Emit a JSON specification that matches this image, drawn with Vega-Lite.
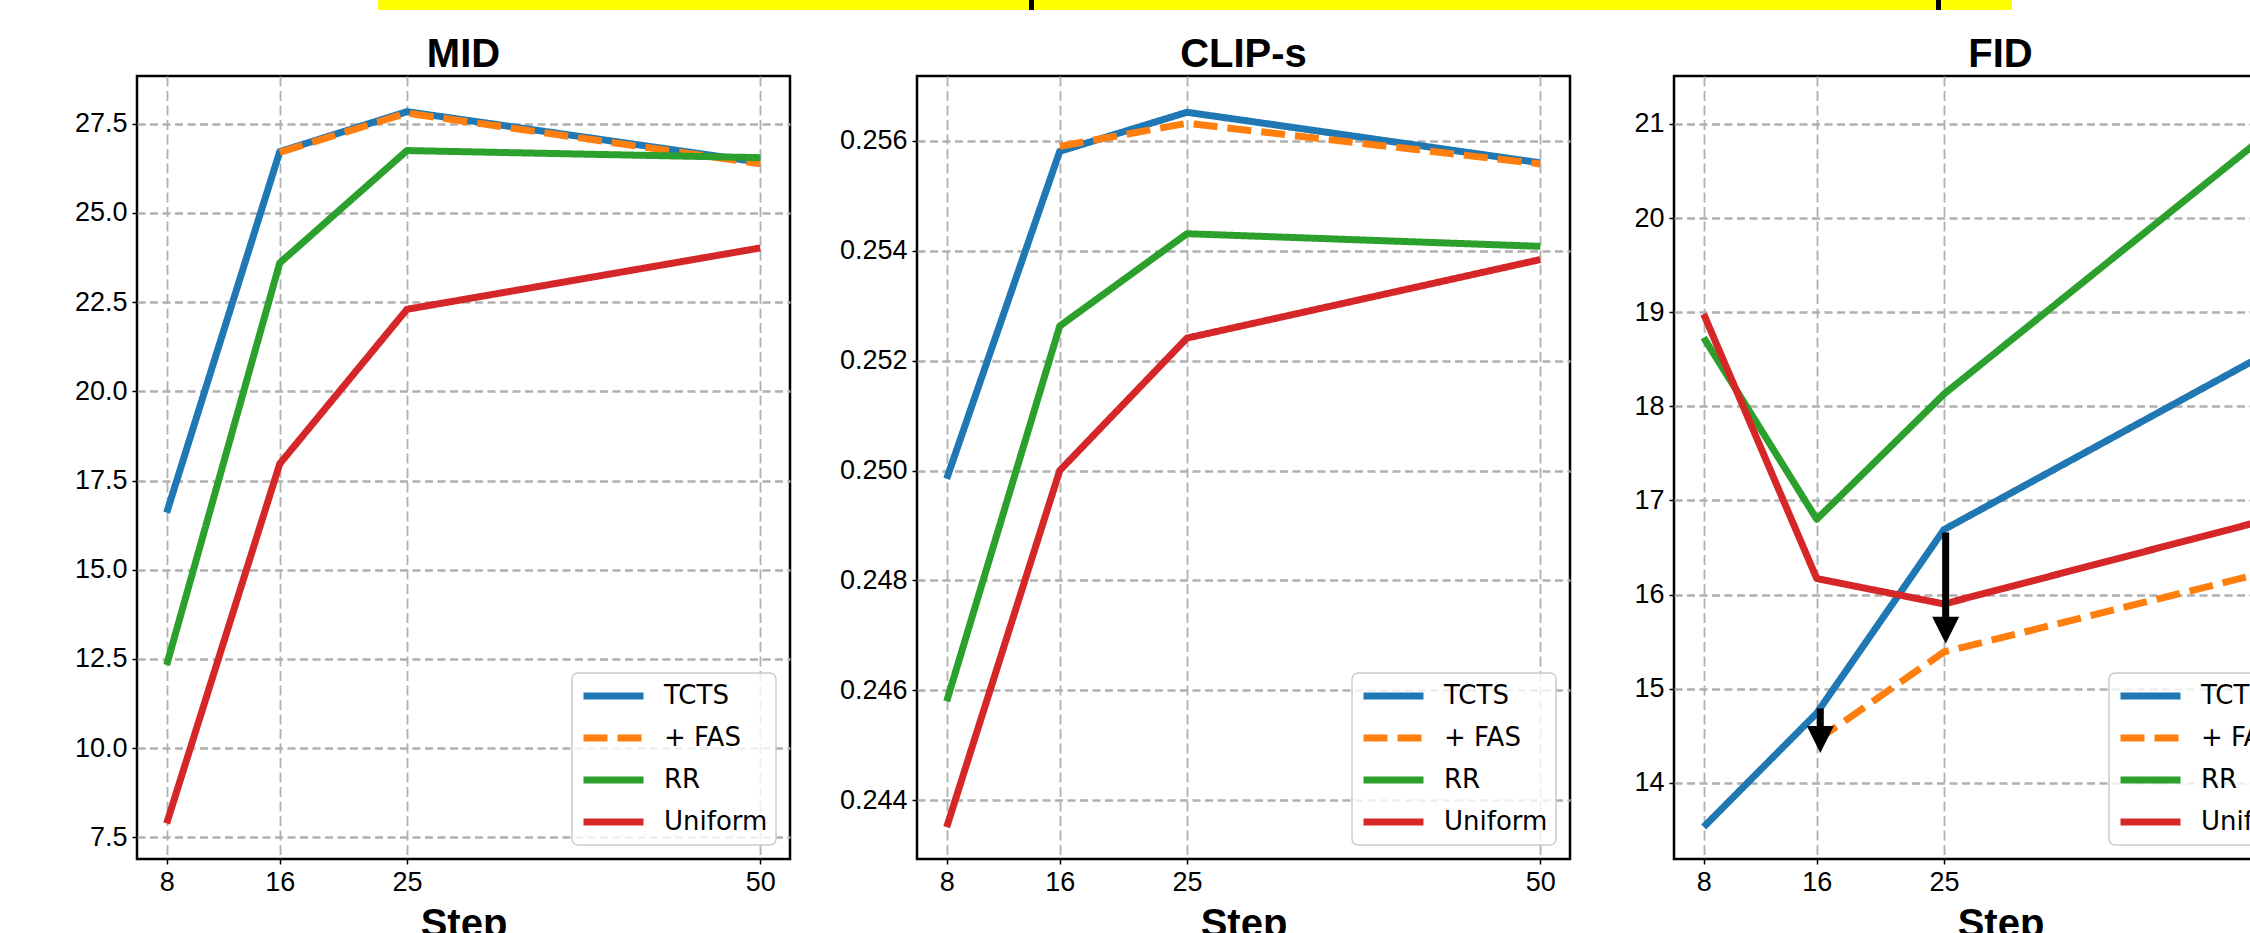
{
  "$schema": "https://vega.github.io/schema/vega-lite/v6.json",
  "padding": 0,
  "background": "white",
  "spacing": 23,
  "datasets": {
    "mid": [
      {"method": "TCTS", "step": 8, "value": 16.6},
      {"method": "TCTS", "step": 16, "value": 26.72},
      {"method": "TCTS", "step": 25, "value": 27.84},
      {"method": "TCTS", "step": 50, "value": 26.42},
      {"method": "+ FAS", "step": 16, "value": 26.7},
      {"method": "+ FAS", "step": 25, "value": 27.8},
      {"method": "+ FAS", "step": 50, "value": 26.38},
      {"method": "RR", "step": 8, "value": 12.33},
      {"method": "RR", "step": 16, "value": 23.6},
      {"method": "RR", "step": 25, "value": 26.75},
      {"method": "RR", "step": 50, "value": 26.55},
      {"method": "Uniform", "step": 8, "value": 7.89},
      {"method": "Uniform", "step": 16, "value": 17.97},
      {"method": "Uniform", "step": 25, "value": 22.3},
      {"method": "Uniform", "step": 50, "value": 24.02}
    ],
    "clip": [
      {"method": "TCTS", "step": 8, "value": 0.24985},
      {"method": "TCTS", "step": 16, "value": 0.25581},
      {"method": "TCTS", "step": 25, "value": 0.25652},
      {"method": "TCTS", "step": 50, "value": 0.2556},
      {"method": "+ FAS", "step": 16, "value": 0.2559},
      {"method": "+ FAS", "step": 25, "value": 0.25632},
      {"method": "+ FAS", "step": 50, "value": 0.25558},
      {"method": "RR", "step": 8, "value": 0.2458},
      {"method": "RR", "step": 16, "value": 0.25263},
      {"method": "RR", "step": 25, "value": 0.25431},
      {"method": "RR", "step": 50, "value": 0.25408},
      {"method": "Uniform", "step": 8, "value": 0.24351},
      {"method": "Uniform", "step": 16, "value": 0.25},
      {"method": "Uniform", "step": 25, "value": 0.25241},
      {"method": "Uniform", "step": 50, "value": 0.25384}
    ],
    "fid": [
      {"method": "TCTS", "step": 8, "value": 13.53},
      {"method": "TCTS", "step": 16, "value": 14.74},
      {"method": "TCTS", "step": 25, "value": 16.69},
      {"method": "TCTS", "step": 50, "value": 18.74},
      {"method": "+ FAS", "step": 16, "value": 14.45},
      {"method": "+ FAS", "step": 25, "value": 15.39},
      {"method": "+ FAS", "step": 50, "value": 16.32},
      {"method": "RR", "step": 8, "value": 18.73},
      {"method": "RR", "step": 16, "value": 16.8},
      {"method": "RR", "step": 25, "value": 18.13},
      {"method": "RR", "step": 50, "value": 21.15},
      {"method": "Uniform", "step": 8, "value": 18.98},
      {"method": "Uniform", "step": 16, "value": 16.17},
      {"method": "Uniform", "step": 25, "value": 15.9},
      {"method": "Uniform", "step": 50, "value": 16.88}
    ],
    "arrows": [
      {"step": 16.25, "top": 14.79, "head": 14.46},
      {"step": 25.12, "top": 16.66, "head": 15.62}
    ]
  },
  "vconcat": [
    {
      "spacing": 0,
      "hconcat": [
        {"width": 241, "height": 10, "data": {"values": []}, "mark": "point", "encoding": {}, "view": {"stroke": null, "fill": "#ffffff"}},
        {"width": 651, "height": 10, "data": {"values": []}, "mark": "point", "encoding": {}, "view": {"stroke": null, "fill": "#ffff00"}},
        {"width": 5, "height": 10, "data": {"values": []}, "mark": "point", "encoding": {}, "view": {"stroke": null, "fill": "#000000"}},
        {"width": 902, "height": 10, "data": {"values": []}, "mark": "point", "encoding": {}, "view": {"stroke": null, "fill": "#ffff00"}},
        {"width": 5, "height": 10, "data": {"values": []}, "mark": "point", "encoding": {}, "view": {"stroke": null, "fill": "#000000"}},
        {"width": 71, "height": 10, "data": {"values": []}, "mark": "point", "encoding": {}, "view": {"stroke": null, "fill": "#ffff00"}}
      ]
    },
    {
      "spacing": 0,
      "resolve": {
        "scale": {"color": "independent", "strokeDash": "independent", "x": "independent", "y": "independent"},
        "legend": {"color": "independent", "strokeDash": "independent"}
      },
      "hconcat": [
        {
          "width": 653,
          "height": 783,
          "title": {"text": "MID"},
          "data": {"name": "mid"},
          "mark": {"type": "line", "strokeWidth": 7, "strokeJoin": "round", "strokeCap": "butt"},
          "encoding": {
            "x": {"field": "step", "type": "quantitative", "scale": {"domain": [5.9, 52.1], "nice": false, "zero": false}, "axis": {"values": [8, 16, 25, 50], "format": "d", "title": "Step"}},
            "y": {"field": "value", "type": "quantitative", "scale": {"domain": [6.89, 28.84], "nice": false, "zero": false}, "axis": {"values": [7.5, 10, 12.5, 15, 17.5, 20, 22.5, 25, 27.5], "format": ".1f", "title": null, "minExtent": 135, "maxExtent": 135}},
            "color": {"field": "method", "type": "nominal", "scale": {"domain": ["TCTS", "+ FAS", "RR", "Uniform"], "range": ["#1f77b4", "#ff7f0e", "#2ca02c", "#d62728"]}, "legend": {"title": null, "orient": "bottom-right"}},
            "strokeDash": {"field": "method", "type": "nominal", "scale": {"domain": ["TCTS", "+ FAS", "RR", "Uniform"], "range": [[1, 0], [24, 10], [1, 0], [1, 0]]}, "legend": {"title": null, "orient": "bottom-right"}}
          }
        },
        {
          "width": 653,
          "height": 783,
          "title": {"text": "CLIP-s"},
          "data": {"name": "clip"},
          "mark": {"type": "line", "strokeWidth": 7, "strokeJoin": "round", "strokeCap": "butt"},
          "encoding": {
            "x": {"field": "step", "type": "quantitative", "scale": {"domain": [5.9, 52.1], "nice": false, "zero": false}, "axis": {"values": [8, 16, 25, 50], "format": "d", "title": "Step"}},
            "y": {"field": "value", "type": "quantitative", "scale": {"domain": [0.24293, 0.25718], "nice": false, "zero": false}, "axis": {"values": [0.244, 0.246, 0.248, 0.25, 0.252, 0.254, 0.256], "format": ".3f", "title": null, "minExtent": 123, "maxExtent": 123}},
            "color": {"field": "method", "type": "nominal", "scale": {"domain": ["TCTS", "+ FAS", "RR", "Uniform"], "range": ["#1f77b4", "#ff7f0e", "#2ca02c", "#d62728"]}, "legend": {"title": null, "orient": "bottom-right"}},
            "strokeDash": {"field": "method", "type": "nominal", "scale": {"domain": ["TCTS", "+ FAS", "RR", "Uniform"], "range": [[1, 0], [24, 10], [1, 0], [1, 0]]}, "legend": {"title": null, "orient": "bottom-right"}}
          }
        },
        {
          "width": 653,
          "height": 783,
          "title": {"text": "FID"},
          "layer": [
            {
              "data": {"name": "fid"},
              "mark": {"type": "line", "strokeWidth": 7, "strokeJoin": "round", "strokeCap": "butt"},
              "encoding": {
                "x": {"field": "step", "type": "quantitative", "scale": {"domain": [5.9, 52.1], "nice": false, "zero": false}, "axis": {"values": [8, 16, 25, 50], "format": "d", "title": "Step"}},
                "y": {"field": "value", "type": "quantitative", "scale": {"domain": [13.19, 21.51], "nice": false, "zero": false}, "axis": {"values": [14, 15, 16, 17, 18, 19, 20, 21], "format": "d", "title": null, "minExtent": 100, "maxExtent": 100}},
                "color": {"field": "method", "type": "nominal", "scale": {"domain": ["TCTS", "+ FAS", "RR", "Uniform"], "range": ["#1f77b4", "#ff7f0e", "#2ca02c", "#d62728"]}, "legend": {"title": null, "orient": "bottom-right"}},
                "strokeDash": {"field": "method", "type": "nominal", "scale": {"domain": ["TCTS", "+ FAS", "RR", "Uniform"], "range": [[1, 0], [24, 10], [1, 0], [1, 0]]}, "legend": {"title": null, "orient": "bottom-right"}}
              }
            },
            {
              "data": {"name": "arrows"},
              "mark": {"type": "rule", "strokeWidth": 7, "color": "#000000", "strokeCap": "butt"},
              "encoding": {
                "x": {"field": "step", "type": "quantitative", "title": "Step"},
                "y": {"field": "top", "type": "quantitative", "title": null},
                "y2": {"field": "head"}
              }
            },
            {
              "data": {"name": "arrows"},
              "mark": {"type": "point", "shape": "M-1,-1L1,-1L0,1Z", "filled": true, "size": 729, "color": "#000000", "opacity": 1, "strokeWidth": 0},
              "encoding": {
                "x": {"field": "step", "type": "quantitative", "title": "Step"},
                "y": {"field": "head", "type": "quantitative", "title": null}
              }
            }
          ]
        }
      ]
    }
  ],
  "config": {
    "view": {"stroke": "#000000", "strokeWidth": 2.5},
    "axis": {
      "grid": true,
      "domain": false,
      "tickColor": "#000000",
      "tickWidth": 1.5,
      "tickSize": 5,
      "labelFont": "Liberation Sans",
      "labelFontSize": 27,
      "labelColor": "#000000",
      "labelFlush": false,
      "labelOverlap": false,
      "titleFont": "Liberation Sans",
      "titleFontSize": 40,
      "titleFontWeight": "bold",
      "titleColor": "#000000"
    },
    "axisX": {"labelPadding": 5, "titlePadding": 9, "gridColor": "#b0b0b0", "gridDash": [10, 4.5], "gridWidth": 1.8},
    "axisY": {"labelPadding": 5, "gridColor": "#b0b0b0", "gridDash": [8, 4.5], "gridWidth": 2.3},
    "title": {"font": "Liberation Sans", "fontSize": 40, "fontWeight": "bold", "color": "#000000", "offset": 1},
    "legend": {
      "orient": "bottom-right",
      "offset": 14,
      "symbolType": "stroke",
      "symbolSize": 3600,
      "symbolStrokeWidth": 7,
      "labelFont": "DejaVu Sans",
      "labelFontSize": 26,
      "labelColor": "#000000",
      "labelOffset": 17,
      "rowPadding": 12,
      "clipHeight": 30,
      "padding": 8,
      "fillColor": "rgba(255,255,255,0.8)",
      "strokeColor": "#cccccc",
      "cornerRadius": 6,
      "strokeWidth": 1.5
    }
  }
}
